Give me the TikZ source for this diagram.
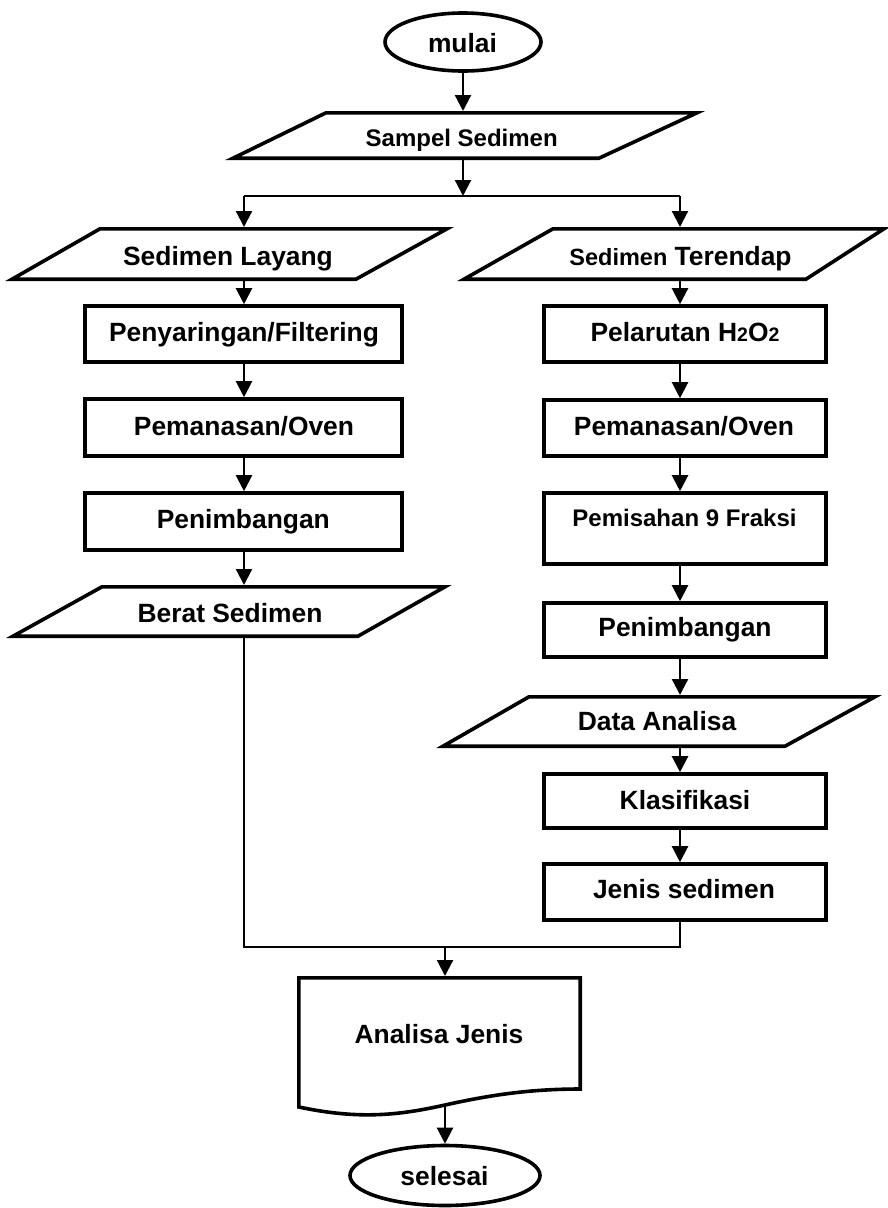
\documentclass[tikz,border=0pt]{standalone}
\usepackage{fontspec}
\setmainfont{Liberation Sans}
\usetikzlibrary{arrows.meta,shapes.geometric}
\newcommand{\fbig}{\fontsize{26.4}{30}\selectfont\bfseries}
\newcommand{\fmid}{\fontsize{24}{28}\selectfont\bfseries}
\begin{document}
\begin{tikzpicture}[x=1pt,y=-1pt,
  outline/.style={draw=black, line width=3.6pt, line join=miter},
  procbox/.style={rectangle, outline, inner sep=0pt},
  termbox/.style={ellipse, outline, inner sep=0pt},
  holder/.style={rectangle, draw=none, inner sep=0pt, outer sep=0pt},
  txt/.style={anchor=base, inner sep=0pt, font=\fbig},
  conn/.style={draw=black, line width=2.2pt},
  arr/.style={conn, -{Triangle[length=16pt,width=16pt]}}
]
\useasboundingbox (0,0) rectangle (888,1208);

% ---------- terminators ----------
\node[termbox, minimum width=156pt, minimum height=58pt] (mulai) at (463,42) {};
\node[txt] (tmulai) at (462.5,52.7) {mulai};

\node[termbox, minimum width=190pt, minimum height=60pt] (selesai) at (445,1175.5) {};
\node[txt] (tselesai) at (444.5,1185) {selesai};

% ---------- parallelograms (holders + outlines) ----------
\node[holder, minimum width=464pt, minimum height=49pt] (sam) at (465,135.5) {};
\draw[outline] (326,112.8) -- (697,112.8) -- (599,158.2) -- (233,158.2) -- cycle;
\node[txt, font=\fmid] (tsam) at (461.7,146.7) {Sampel Sedimen};

\node[holder, minimum width=435pt, minimum height=54pt] (lay) at (229.5,254) {};
\draw[outline] (100,228.8) -- (447,228.8) -- (356,279.2) -- (12,279.2) -- cycle;
\node[txt] (tlay) at (228,265) {Sedimen Layang};

\node[holder, minimum width=424pt, minimum height=54pt] (ter) at (675,254) {};
\draw[outline] (553,228.8) -- (884,228.8) -- (806,279.2) -- (464,279.2) -- cycle;
\node[txt] (tter) at (680.5,265) {{\fontsize{23.5}{28}\selectfont Sedimen} Terendap};

\node[holder, minimum width=432pt, minimum height=53pt] (ber) at (229,611.5) {};
\draw[outline] (102,586.8) -- (445,586.8) -- (358,636.2) -- (13,636.2) -- cycle;
\node[txt] (tber) at (230,622.7) {Berat Sedimen};

\node[holder, minimum width=432pt, minimum height=53pt] (dat) at (659,721.5) {};
\draw[outline] (529,696.8) -- (875,696.8) -- (785,746.2) -- (443,746.2) -- cycle;
\node[txt] (tdat) at (657,730) {Data Analisa};

% ---------- left column boxes ----------
\node[procbox, minimum width=317pt, minimum height=56pt] (pf) at (243.5,334) {};
\node[txt] (tpf) at (244,341.7) {Penyaringan/Filtering};

\node[procbox, minimum width=317pt, minimum height=57pt] (pol) at (243.5,427.5) {};
\node[txt] (tpol) at (244,435) {Pemanasan/Oven};

\node[procbox, minimum width=317pt, minimum height=57pt] (pnl) at (243.5,521.5) {};
\node[txt] (tpnl) at (243.3,528.3) {Penimbangan};

% ---------- right column boxes ----------
\node[procbox, minimum width=282pt, minimum height=56pt] (pel) at (685,334) {};
\node[txt] (tpel) at (685,341.7) {Pelarutan H{\fontsize{19.5}{22}\selectfont 2}O{\fontsize{19.5}{22}\selectfont 2}};

\node[procbox, minimum width=282pt, minimum height=56pt] (por) at (685,428) {};
\node[txt] (tpor) at (684,435) {Pemanasan/Oven};

\node[procbox, minimum width=282pt, minimum height=71pt] (pms) at (685,528.5) {};
\node[txt, font=\fmid] (tpms) at (684.5,526) {Pemisahan 9 Fraksi};

\node[procbox, minimum width=282pt, minimum height=54pt] (pnr) at (685,630) {};
\node[txt] (tpnr) at (685,636.7) {Penimbangan};

\node[procbox, minimum width=282pt, minimum height=54pt] (kla) at (685,801) {};
\node[txt] (tkla) at (685,809) {Klasifikasi};

\node[procbox, minimum width=282pt, minimum height=56pt] (jen) at (685,892) {};
\node[txt] (tjen) at (684,898.3) {Jenis sedimen};

% ---------- document shape ----------
\node[holder, minimum width=285pt, minimum height=131pt] (doc) at (439.5,1041.5) {};
\draw[outline] (298.8,977.8) -- (580.2,977.8) -- (580.2,1089)
  .. controls (530,1089) and (490,1095) .. (445,1105)
  .. controls (400,1115) and (360,1120) .. (298.8,1107) -- cycle;
\node[txt] (tdoc) at (439,1043.3) {Analisa Jenis};
\coordinate (docb) at (445,1105);

% ---------- junction coordinates ----------
\coordinate (split) at (463,196);
\coordinate (bl) at (244,196);
\coordinate (br) at (680,196);
\coordinate (ml) at (244,947);
\coordinate (mr) at (680,947);
\coordinate (mm) at (445,947);

% ---------- connectors ----------
\draw[arr] (mulai.south) -- (sam.north -| mulai.south);
\draw[arr] (sam.south -| split) -- (split);
\draw[conn] (bl) -- (br);
\draw[arr] (bl) -- (lay.north -| bl);
\draw[arr] (br) -- (ter.north -| br);

\draw[arr] (lay.south -| bl) -- (pf.north -| bl);
\draw[arr] (pf.south -| bl) -- (pol.north -| bl);
\draw[arr] (pol.south -| bl) -- (pnl.north -| bl);
\draw[arr] (pnl.south -| bl) -- (ber.north -| bl);

\draw[arr] (ter.south -| br) -- (pel.north -| br);
\draw[arr] (pel.south -| br) -- (por.north -| br);
\draw[arr] (por.south -| br) -- (pms.north -| br);
\draw[arr] (pms.south -| br) -- (pnr.north -| br);
\draw[arr] (pnr.south -| br) -- (dat.north -| br);
\draw[arr] (dat.south -| br) -- (kla.north -| br);
\draw[arr] (kla.south -| br) -- (jen.north -| br);

\draw[conn] (ber.south -| ml) -- (ml) -- (mr) -- (jen.south -| mr);
\draw[arr] (mm) -- (doc.north -| mm);
\draw[arr] (docb) -- (selesai.north);
\end{tikzpicture}
\end{document}
